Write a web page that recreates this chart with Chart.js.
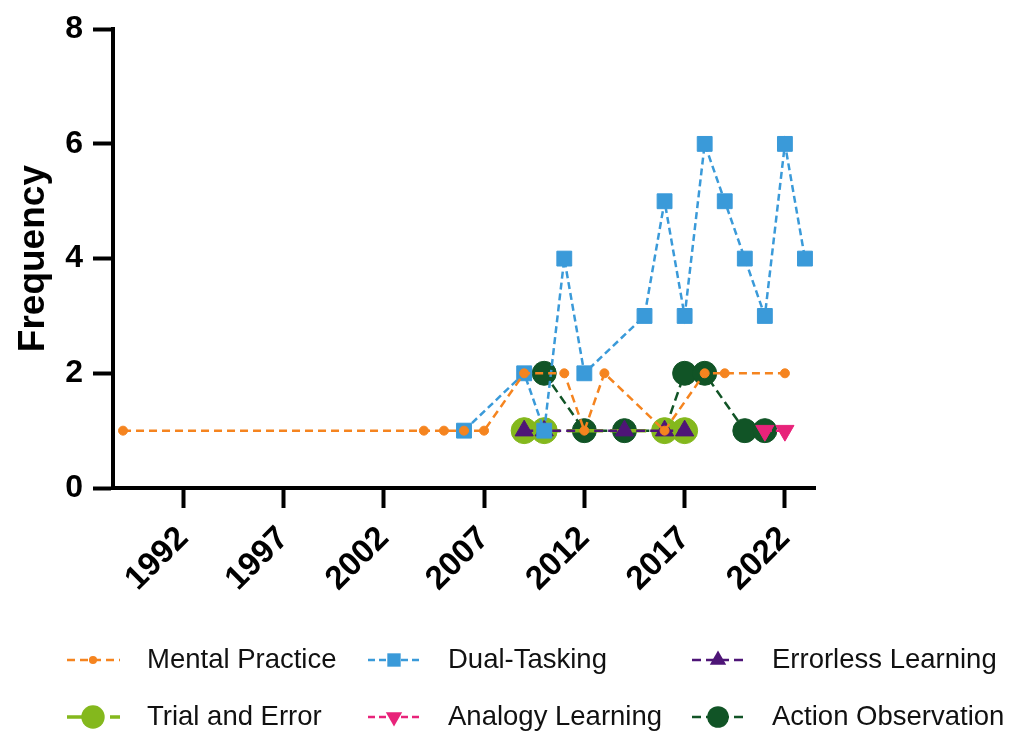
<!DOCTYPE html>
<html>
<head>
<meta charset="utf-8">
<script src="https://cdn.jsdelivr.net/npm/chart.js@4/dist/chart.umd.min.js"></script>
<style>
	html, body { margin: 0; padding: 0; background: #fff; }
	#wrap { width: 1010px; height: 734px; }
	canvas { display: block; }
</style>
</head>
<body>
<div id="wrap"><canvas id="chart" width="1010" height="734"></canvas></div>
<script>
// Tick labels
const yearTicks = [ 1992, 1997, 2002, 2007, 2012, 2017, 2022 ];

// Series (year, frequency)
const mentalYears = [ 1989, 2004, 2005, 2006, 2007, 2009, 2011, 2012, 2013, 2016, 2018, 2019, 2022 ];
const mentalValues = [ 1, 1, 1, 1, 1, 2, 2, 1, 2, 1, 2, 2, 2 ];

const dualYears = [ 2006, 2009, 2010, 2011, 2012, 2015, 2016, 2017, 2018, 2019, 2020, 2021, 2022, 2023 ];
const dualValues = [ 1, 2, 1, 4, 2, 3, 5, 3, 6, 5, 4, 3, 6, 4 ];

const errorlessYears = [ 2009, 2010, 2014, 2016, 2017 ];
const errorlessValues = [ 1, 1, 1, 1, 1 ];

const trialYears = [ 2009, 2010, 2016, 2017 ];
const trialValues = [ 1, 1, 1, 1 ];

const analogyYears = [ 2021, 2022 ];
const analogyValues = [ 1, 1 ];

const actionYears = [ 2010, 2012, 2014, 2016, 2017, 2018, 2020, 2021 ];
const actionValues = [ 2, 1, 1, 1, 2, 2, 1, 1 ];

const FONT = '"Liberation Sans", Arial, sans-serif';

function points( xs, ys ) {
	return xs.map( ( x, i ) => ( { x: x, y: ys[ i ] } ) );
}

function series( label, xs, ys, color, style, radius, dash, width, rotation ) {
	return {
		label: label,
		data: points( xs, ys ),
		borderColor: color,
		backgroundColor: color,
		borderWidth: width,
		borderDash: dash,
		pointStyle: style,
		pointRadius: radius,
		pointHoverRadius: radius,
		pointRotation: rotation || 0,
		pointBackgroundColor: color,
		pointBorderColor: color,
		pointBorderWidth: 1,
		tension: 0,
		fill: false
	};
}

// draw a marker the same way Chart.js does, for the legend
function drawMarker( ctx, style, r, rotation, x, y ) {
	ctx.beginPath();
	if ( style === 'circle' ) {
		ctx.arc( x, y, r, 0, Math.PI * 2 );
	} else if ( style === 'rect' ) {
		const s = r * Math.SQRT1_2;
		ctx.rect( x - s, y - s, 2 * s, 2 * s );
	} else if ( style === 'triangle' ) {
		let rad = rotation * Math.PI / 180;
		ctx.moveTo( x + Math.sin( rad ) * r, y - Math.cos( rad ) * r );
		rad += 2 * Math.PI / 3;
		ctx.lineTo( x + Math.sin( rad ) * r, y - Math.cos( rad ) * r );
		rad += 2 * Math.PI / 3;
		ctx.lineTo( x + Math.sin( rad ) * r, y - Math.cos( rad ) * r );
		ctx.closePath();
	}
	ctx.fill();
}

// Legend laid out in three fixed columns, two rows
const gridLegend = {
	id: 'gridLegend',
	afterDraw: function ( chart ) {
		const ctx = chart.ctx;
		const cols = [ 67, 368, 692 ];
		const rows = [ 660, 717 ];
		chart.data.datasets.forEach( function ( ds, i ) {
			const x = cols[ i % 3 ];
			const y = rows[ Math.floor( i / 3 ) ];
			ctx.save();
			ctx.strokeStyle = ds.borderColor;
			ctx.lineWidth = ds.borderWidth;
			ctx.setLineDash( ds.borderDash );
			ctx.beginPath();
			ctx.moveTo( x, y );
			ctx.lineTo( x + 53, y );
			ctx.stroke();
			ctx.setLineDash( [] );
			ctx.fillStyle = ds.pointBackgroundColor;
			drawMarker( ctx, ds.pointStyle, ds.pointRadius * 0.9, ds.pointRotation, x + 26, y );
			ctx.fillStyle = '#111';
			ctx.font = '27.5px ' + FONT;
			ctx.textBaseline = 'middle';
			ctx.textAlign = 'left';
			ctx.fillText( ds.label, x + 80, y );
			ctx.restore();
		} );
	}
};

new Chart( document.getElementById( 'chart' ), {
	type: 'line',
	data: {
		datasets: [
			series( 'Mental Practice', mentalYears, mentalValues, '#f5841f', 'circle', 4.5, [ 8, 5 ], 2.5 ),
			series( 'Dual-Tasking', dualYears, dualValues, '#3a9ad9', 'rect', 10.5, [ 7, 4 ], 2.5 ),
			series( 'Errorless Learning', errorlessYears, errorlessValues, '#4e1577', 'triangle', 10.5, [ 9, 5 ], 2.5 ),
			series( 'Trial and Error', trialYears, trialValues, '#84b81d', 'circle', 13, [ 36, 7 ], 3.5 ),
			series( 'Analogy Learning', analogyYears, analogyValues, '#e8237a', 'triangle', 10.5, [ 7, 4 ], 2.5, 180 ),
			series( 'Action Observation', actionYears, actionValues, '#115426', 'circle', 12, [ 9, 5 ], 2.5 )
		]
	},
	options: {
		responsive: false,
		maintainAspectRatio: false,
		animation: false,
		clip: false,
		layout: {
			padding: { top: 21, right: 195, bottom: 136, left: 0 }
		},
		plugins: {
			legend: { display: false },
			tooltip: { enabled: false }
		},
		scales: {
			x: {
				type: 'linear',
				min: 1988.5,
				max: 2023.5,
				afterBuildTicks: function ( scale ) {
					scale.ticks = yearTicks.map( ( v ) => ( { value: v } ) );
				},
				afterFit: function ( scale ) {
					scale.height = 110;
				},
				border: { display: true, color: '#000', width: 4 },
				grid: {
					drawOnChartArea: false,
					drawTicks: true,
					tickLength: 20,
					tickWidth: 4,
					tickColor: '#000'
				},
				ticks: {
					autoSkip: false,
					minRotation: 45,
					maxRotation: 45,
					padding: 11,
					color: '#000',
					font: { family: FONT, size: 33, weight: 'bold', lineHeight: 1.2 },
					callback: ( v ) => String( v )
				}
			},
			y: {
				min: 0,
				max: 8,
				afterFit: function ( scale ) {
					scale.width = 113;
				},
				border: { display: true, color: '#000', width: 4 },
				grid: {
					drawOnChartArea: false,
					drawTicks: true,
					tickLength: 20,
					tickWidth: 4,
					tickColor: '#000'
				},
				ticks: {
					stepSize: 2,
					padding: 10,
					color: '#000',
					font: { family: FONT, size: 32, weight: 'bold' }
				},
				title: {
					display: true,
					text: 'Frequency',
					color: '#000',
					padding: { top: 15, bottom: 0 },
					font: { family: FONT, size: 37, weight: 'bold', lineHeight: 1 }
				}
			}
		}
	},
	plugins: [ gridLegend ]
} );
</script>
</body>
</html>
